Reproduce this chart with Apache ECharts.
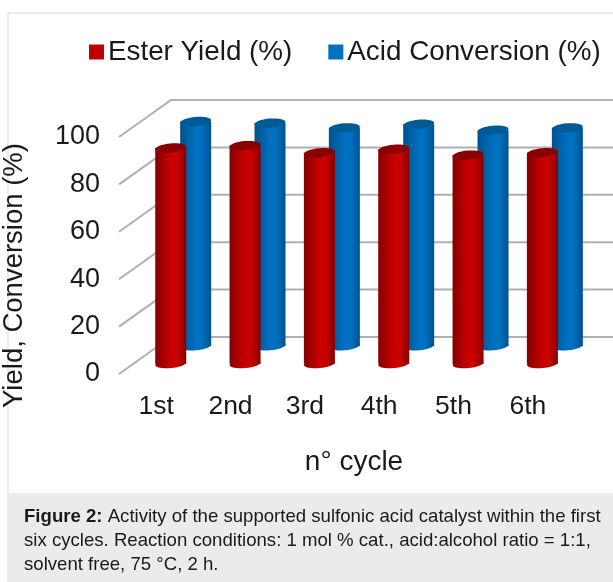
<!DOCTYPE html>
<html>
  <head>
    <meta charset="utf-8">
    <title>Figure 2</title>
    <style>html,body{margin:0;padding:0;background:#fff}</style>
  </head>
  <body>
    <div id="main" style="width: 613px;height:582px;"></div>
    <script type="text/javascript" src="https://cdn.jsdelivr.net/npm/echarts@6/dist/echarts.min.js"></script>
    <script type="text/javascript">
      var cycles = ['1st', '2nd', '3rd', '4th', '5th', '6th'];
      var esterYield = [91, 92, 89, 90.5, 88, 89];
      var acidConversion = [94.7, 94, 92, 93.5, 91, 92];
      var yTicks = [0, 20, 40, 60, 80, 100];
      var font = '"Liberation Sans", Arial, sans-serif';
      var ink = '#1a1a1a';

      var myChart = echarts.init(document.getElementById('main'));

      // 3D look: everything is pushed back from the front plane by a fraction of this
      var depthX = 52, depthY = -37;
      var radiusX = 15.5, radiusY = 4.5, tilt = 0.09;

      function cylinderItem(depth, edge, mid, topColor) {
        return function (params, api) {
          var dx = depthX * depth, dy = depthY * depth;
          var base = api.coord([api.value(0), 0]);
          var top = api.coord([api.value(0), api.value(1)]);
          var cx = base[0] + dx, by = base[1] + dy, ty = top[1] + dy;
          var fill = new echarts.graphic.LinearGradient(0, 0, 1, 0, [
            {offset: 0, color: edge}, {offset: 0.5, color: mid},
            {offset: 0.7, color: mid}, {offset: 1, color: edge}
          ]);
          return {
            type: 'group',
            children: [
              {type: 'ellipse', shape: {cx: cx, cy: by, rx: radiusX, ry: radiusY},
                rotation: tilt, originX: cx, originY: by, style: {fill: fill}},
              {type: 'rect', shape: {x: cx - radiusX, y: ty, width: radiusX * 2, height: by - ty},
                style: {fill: fill}},
              {type: 'ellipse', shape: {cx: cx, cy: ty, rx: radiusX, ry: radiusY},
                rotation: tilt, originX: cx, originY: ty, style: {fill: topColor}}
            ]
          };
        };
      }

      // back wall line and the diagonal on the side wall
      function wallItem(params, api) {
        var p = api.coord([0, api.value(1)]);
        var left = params.coordSys.x, right = left + params.coordSys.width;
        return {
          type: 'polyline',
          shape: {points: [[left, p[1]], [left + depthX, p[1] + depthY], [right + depthX, p[1] + depthY]]},
          style: {stroke: '#b0b0b0', lineWidth: 2, fill: 'none'}
        };
      }

      function pairs(values) {
        return values.map(function (v, i) { return [i, v]; });
      }

      myChart.setOption({
        animation: false,
        backgroundColor: '#fff',
        graphic: [
          {type: 'polyline', shape: {points: [[8, 582], [8, 13], [613, 13]]},
            style: {stroke: '#d9d9d9', lineWidth: 1, fill: 'none'}},
          {type: 'rect', shape: {x: 8, y: 493, width: 605, height: 89}, style: {fill: '#ebebeb'}},
          {type: 'text', left: 24, top: 505, style: {
            text: '{b|Figure 2:} Activity of the supported sulfonic acid catalyst within the first\n' +
                  'six cycles. Reaction conditions: 1 mol % cat., acid:alcohol ratio = 1:1,\n' +
                  'solvent free, 75 °C, 2 h.',
            fontFamily: font, fontSize: 18.6, lineHeight: 24, fill: ink,
            rich: {b: {fontFamily: font, fontSize: 18.6, fontWeight: 'bold', lineHeight: 24, fill: ink}}
          }}
        ],
        legend: {
          left: 84, top: 33, itemWidth: 15, itemHeight: 15, itemGap: 36, icon: 'rect',
          data: ['Ester Yield (%)', 'Acid Conversion (%)'],
          textStyle: {fontFamily: font, fontSize: 27.8, color: ink, padding: [0, 0, 0, -1]}
        },
        grid: {left: 119, top: 137, width: 446, height: 237, outerBoundsMode: 'none'},
        xAxis: {
          type: 'category', data: cycles,
          name: 'n° cycle', nameLocation: 'middle', nameGap: 74,
          nameTextStyle: {fontFamily: font, fontSize: 28, color: ink, padding: [0, 0, 0, 24]},
          axisLine: {show: false}, axisTick: {show: false},
          axisLabel: {fontFamily: font, fontSize: 26.5, color: ink, margin: 19}
        },
        yAxis: {
          type: 'value', min: 0, max: 100, interval: 20,
          name: 'Yield, Conversion (%)', nameLocation: 'middle', nameGap: 91,
          nameTextStyle: {fontFamily: font, fontSize: 27.5, color: ink, padding: [0, 40, 0, 0]},
          axisLine: {show: false}, axisTick: {show: false}, splitLine: {show: false},
          axisLabel: {fontFamily: font, fontSize: 27, color: ink, margin: 19}
        },
        series: [
          {
            name: 'walls', type: 'custom', clip: false, silent: true,
            renderItem: wallItem, encode: {x: 0, y: 1},
            data: yTicks.map(function (t) { return [0, t]; })
          },
          {
            name: 'Acid Conversion (%)', type: 'custom', clip: false,
            itemStyle: {color: '#0070c0'},
            renderItem: cylinderItem(0.76, '#00528c', '#0070c0', '#005a96'),
            encode: {x: 0, y: 1}, data: pairs(acidConversion)
          },
          {
            name: 'Ester Yield (%)', type: 'custom', clip: false,
            itemStyle: {color: '#c00000'},
            renderItem: cylinderItem(0.28, '#860000', '#c80000', '#8a0000'),
            encode: {x: 0, y: 1}, data: pairs(esterYield)
          }
        ]
      });
    </script>
  </body>
</html>
